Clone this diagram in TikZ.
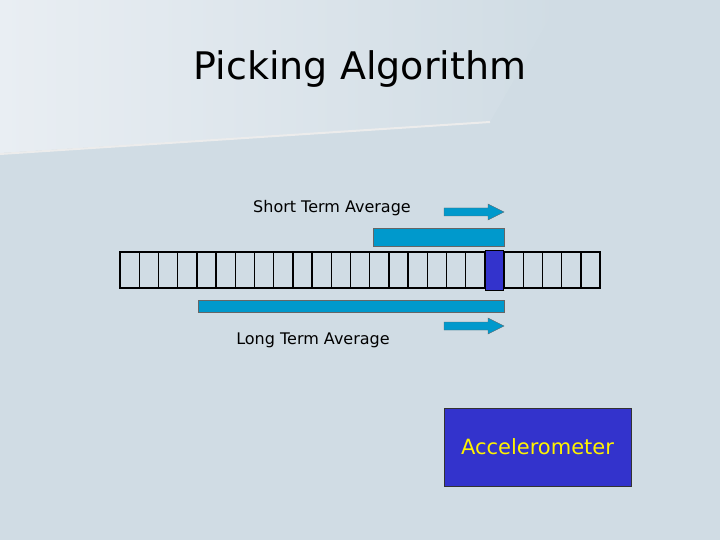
\documentclass[tikz,border=0pt]{standalone}
\usepackage{fontspec}
\setmainfont{DejaVu Sans}
\definecolor{bg}{HTML}{D0DCE4}
\definecolor{bgl}{HTML}{E9EEF3}
\definecolor{barc}{HTML}{0099CC}
\definecolor{blk}{HTML}{3333CC}
\tikzset{bar/.style={fill=barc,draw=black!60,line width=0.4pt},
 tape/.style={draw=black,line width=2.2pt},
 lbl/.style={font=\fontsize{16}{18}\selectfont,anchor=center}}
\begin{document}
\begin{tikzpicture}[x=1pt,y=-1pt]
\useasboundingbox (0,0) rectangle (720,540);
\fill[bg] (0,0) rectangle (720,540);
\shade[left color=bgl,right color=bg] (0,0) -- (560,0) -- (490,122) -- (0,153) -- cycle;
\draw[white!85!gray,line width=2pt] (0,154) -- (490,122);
\node[font=\fontsize{38}{42}\selectfont] (title) at (360,69) {Picking Algorithm};
\node[lbl] (st) at (332,208) {Short Term Average};
\node[lbl] (lt) at (313,340) {Long Term Average};
\draw[bar] (444,208) -- (488,208) -- (488,204) -- (504,212) -- (488,220) -- (488,216) -- (444,216) -- cycle;
\draw[bar] (444,322) -- (488,322) -- (488,318) -- (504,326) -- (488,334) -- (488,330) -- (444,330) -- cycle;
\draw[bar] (373,228) rectangle (504,246);
\draw[bar] (198,300) rectangle (504,312);
\node[tape,minimum width=480pt,minimum height=36pt,inner sep=0pt] (tp) at (360,270) {};
\foreach \i in {1,...,24} \draw[line width=1.4pt] (120+\i*19.2,252) -- (120+\i*19.2,288);
\node[fill=blk,draw=black,line width=0.8pt,minimum width=18pt,minimum height=40pt,inner sep=0pt] (cur) at (494.5,270.5) {};
\node[fill=blk,draw=black!80,line width=0.6pt,minimum width=187pt,minimum height=78pt,text=yellow,font=\fontsize{21}{24}\selectfont] (acc) at (537.5,447) {Accelerometer};
\end{tikzpicture}
\end{document}
